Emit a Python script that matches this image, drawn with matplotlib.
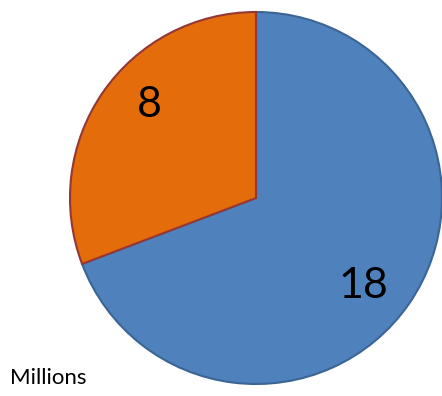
import numpy as np
import matplotlib.pyplot as plt

# Data
labels = ["A", "B"]
values = [18, 8]
colors = ["#4F81BD", "#E46C0A"]
edges = ["#3B6595", "#953735"]

W, H = 442, 396
fig = plt.figure(figsize=(W / 100, H / 100), dpi=100)

cx, cy, r = 256, 198, 186
ax = fig.add_axes([(cx - r) / W, (H - cy - r) / H, 2 * r / W, 2 * r / H])

wedges, texts, autotexts = ax.pie(
    values, colors=colors, startangle=90, counterclock=False,
    autopct=lambda p: f"{round(p * sum(values) / 100):d}",
    pctdistance=0.75, radius=1.0,
    textprops=dict(fontsize=31, family="Lato", color="black"),
    wedgeprops=dict(linewidth=1.5),
)
for w, ec in zip(wedges, edges):
    w.set_edgecolor(ec)

# data labels sit a bit off the wedge bisector, as in the original
for t, ang, d in zip(autotexts, [-39.5, 139], [0.745, 0.76]):
    a = np.deg2rad(ang)
    t.set_position((d * np.cos(a), d * np.sin(a)))

ax.set_xlim(-1, 1)
ax.set_ylim(-1, 1)
ax.set_aspect("equal")
ax.axis("off")

fig.text(10 / W, 1 - 378 / H, "Millions", fontsize=16, family="Lato",
         va="center", ha="left")

fig.savefig("out.png", dpi=100)
